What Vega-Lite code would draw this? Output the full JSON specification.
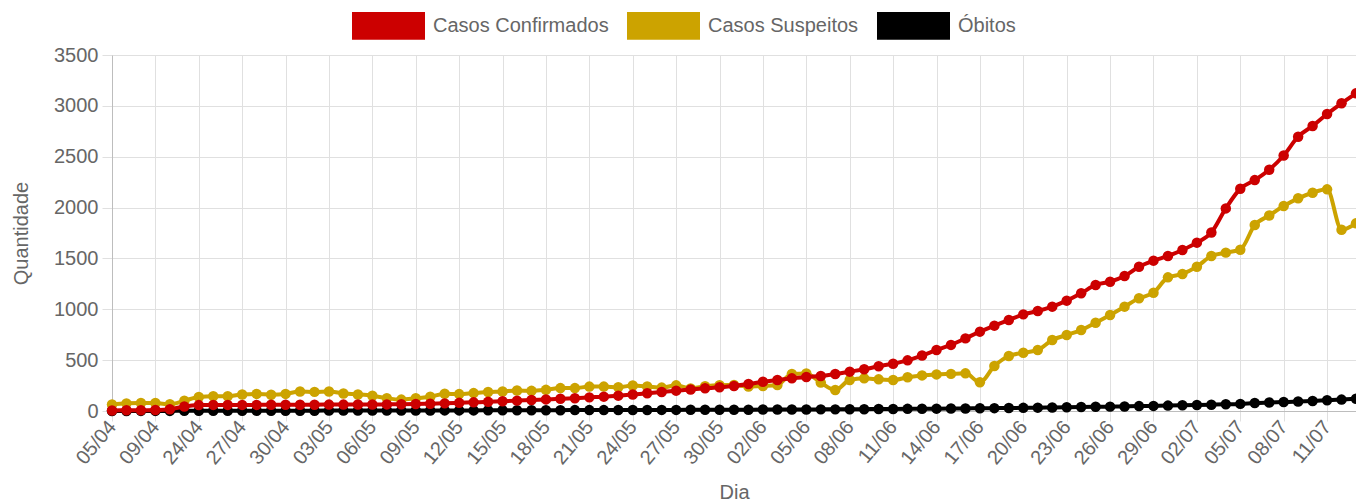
{
  "$schema": "https://vega.github.io/schema/vega-lite/v6.json",
  "autosize": {"type": "none"},
  "width": 1244,
  "height": 356,
  "padding": {"left": 112, "top": 55, "right": 0, "bottom": 91},
  "background": "white",
  "config": {
    "view": {"stroke": null},
    "font": "Liberation Sans",
    "axis": {
      "labelFont": "Liberation Sans",
      "labelFontSize": 20,
      "labelColor": "#666666",
      "titleFont": "Liberation Sans",
      "titleFontSize": 20,
      "titleFontWeight": "normal",
      "titleColor": "#666666",
      "gridColor": "#e0e0e0",
      "gridOpacity": 1,
      "tickColor": "#e0e0e0",
      "tickSize": 10,
      "domainColor": "#bdbdbd",
      "domainWidth": 1
    },
    "legend": {
      "labelFont": "Liberation Sans",
      "labelFontSize": 20,
      "labelColor": "#666666",
      "labelLimit": 400
    }
  },
  "data": {
    "values": [
      {"d": "05/04", "c": 5, "s": 65, "o": 0},
      {"d": "06/04", "c": 7, "s": 75, "o": 0},
      {"d": "08/04", "c": 8, "s": 78, "o": 1},
      {"d": "09/04", "c": 10, "s": 78, "o": 1},
      {"d": "14/04", "c": 18, "s": 66, "o": 1},
      {"d": "19/04", "c": 45, "s": 100, "o": 2},
      {"d": "24/04", "c": 58, "s": 138, "o": 2},
      {"d": "25/04", "c": 60, "s": 145, "o": 2},
      {"d": "26/04", "c": 60, "s": 145, "o": 2},
      {"d": "27/04", "c": 60, "s": 163, "o": 2},
      {"d": "28/04", "c": 60, "s": 168, "o": 3},
      {"d": "29/04", "c": 61, "s": 160, "o": 3},
      {"d": "30/04", "c": 61, "s": 168, "o": 3},
      {"d": "01/05", "c": 62, "s": 192, "o": 3},
      {"d": "02/05", "c": 62, "s": 188, "o": 3},
      {"d": "03/05", "c": 63, "s": 192, "o": 4},
      {"d": "04/05", "c": 63, "s": 172, "o": 4},
      {"d": "05/05", "c": 64, "s": 163, "o": 4},
      {"d": "06/05", "c": 64, "s": 150, "o": 4},
      {"d": "07/05", "c": 65, "s": 125, "o": 5},
      {"d": "08/05", "c": 67, "s": 112, "o": 5},
      {"d": "09/05", "c": 69, "s": 125, "o": 5},
      {"d": "10/05", "c": 72, "s": 140, "o": 5},
      {"d": "11/05", "c": 75, "s": 170, "o": 6},
      {"d": "12/05", "c": 80, "s": 166, "o": 6},
      {"d": "13/05", "c": 85, "s": 176, "o": 6},
      {"d": "14/05", "c": 90, "s": 186, "o": 7},
      {"d": "15/05", "c": 96, "s": 192, "o": 7},
      {"d": "16/05", "c": 102, "s": 202, "o": 7},
      {"d": "17/05", "c": 108, "s": 198, "o": 8},
      {"d": "18/05", "c": 114, "s": 208, "o": 8},
      {"d": "19/05", "c": 120, "s": 225, "o": 8},
      {"d": "20/05", "c": 126, "s": 225, "o": 9},
      {"d": "21/05", "c": 134, "s": 240, "o": 9},
      {"d": "22/05", "c": 141, "s": 240, "o": 9},
      {"d": "23/05", "c": 151, "s": 234, "o": 10},
      {"d": "24/05", "c": 163, "s": 250, "o": 10},
      {"d": "25/05", "c": 174, "s": 242, "o": 10},
      {"d": "26/05", "c": 187, "s": 230, "o": 11},
      {"d": "27/05", "c": 200, "s": 252, "o": 11},
      {"d": "28/05", "c": 212, "s": 222, "o": 12},
      {"d": "29/05", "c": 223, "s": 244, "o": 12},
      {"d": "30/05", "c": 233, "s": 254, "o": 12},
      {"d": "31/05", "c": 246, "s": 255, "o": 13},
      {"d": "01/06", "c": 265, "s": 240, "o": 13},
      {"d": "02/06", "c": 288, "s": 246, "o": 14},
      {"d": "03/06", "c": 305, "s": 256, "o": 14},
      {"d": "04/06", "c": 321, "s": 365, "o": 15},
      {"d": "05/06", "c": 335, "s": 368, "o": 15},
      {"d": "06/06", "c": 344, "s": 279, "o": 16},
      {"d": "07/06", "c": 364, "s": 206, "o": 16},
      {"d": "08/06", "c": 387, "s": 305, "o": 17},
      {"d": "09/06", "c": 410, "s": 321, "o": 18},
      {"d": "10/06", "c": 440, "s": 311, "o": 19},
      {"d": "11/06", "c": 465, "s": 305, "o": 20},
      {"d": "12/06", "c": 498, "s": 331, "o": 21},
      {"d": "13/06", "c": 545, "s": 350, "o": 22},
      {"d": "14/06", "c": 600, "s": 360, "o": 23},
      {"d": "15/06", "c": 650, "s": 365, "o": 24},
      {"d": "16/06", "c": 714, "s": 370, "o": 25},
      {"d": "17/06", "c": 780, "s": 282, "o": 27},
      {"d": "18/06", "c": 839, "s": 442, "o": 28},
      {"d": "19/06", "c": 895, "s": 541, "o": 30},
      {"d": "20/06", "c": 950, "s": 573, "o": 31},
      {"d": "21/06", "c": 983, "s": 600, "o": 33},
      {"d": "22/06", "c": 1026, "s": 698, "o": 35},
      {"d": "23/06", "c": 1085, "s": 747, "o": 37},
      {"d": "24/06", "c": 1157, "s": 796, "o": 39},
      {"d": "25/06", "c": 1239, "s": 868, "o": 41},
      {"d": "26/06", "c": 1271, "s": 944, "o": 43},
      {"d": "27/06", "c": 1327, "s": 1026, "o": 45},
      {"d": "28/06", "c": 1419, "s": 1108, "o": 48},
      {"d": "29/06", "c": 1478, "s": 1163, "o": 50},
      {"d": "30/06", "c": 1524, "s": 1314, "o": 53},
      {"d": "01/07", "c": 1583, "s": 1347, "o": 56},
      {"d": "02/07", "c": 1655, "s": 1419, "o": 59},
      {"d": "03/07", "c": 1755, "s": 1524, "o": 62},
      {"d": "04/07", "c": 1992, "s": 1557, "o": 66},
      {"d": "05/07", "c": 2185, "s": 1586, "o": 70},
      {"d": "06/07", "c": 2270, "s": 1828, "o": 78},
      {"d": "07/07", "c": 2372, "s": 1922, "o": 83},
      {"d": "08/07", "c": 2512, "s": 2015, "o": 88},
      {"d": "09/07", "c": 2697, "s": 2091, "o": 93},
      {"d": "10/07", "c": 2802, "s": 2146, "o": 99},
      {"d": "11/07", "c": 2920, "s": 2179, "o": 106},
      {"d": "12/07", "c": 3025, "s": 1782, "o": 112},
      {"d": "13/07", "c": 3123, "s": 1845, "o": 120}
    ]
  },
  "encoding": {
    "x": {
      "field": "d",
      "type": "ordinal",
      "sort": null,
      "scale": {"type": "point", "padding": 0},
      "title": "Dia",
      "axis": {
        "values": ["05/04", "09/04", "24/04", "27/04", "30/04", "03/05", "06/05", "09/05", "12/05", "15/05", "18/05", "21/05", "24/05", "27/05", "30/05", "02/06", "05/06", "08/06", "11/06", "14/06", "17/06", "20/06", "23/06", "26/06", "29/06", "02/07", "05/07", "08/07", "11/07"],
        "grid": true,
        "labelAngle": -50,
        "labelAlign": "right",
        "labelBaseline": "middle",
        "labelPadding": 2,
        "titlePadding": 15
      }
    }
  },
  "layer": [
    {
      "mark": {"type": "line", "interpolate": "monotone", "strokeWidth": 4},
      "encoding": {
        "y": {"field": "o", "type": "quantitative", "scale": {"domain": [0, 3500]}, "title": "Quantidade",
              "axis": {"values": [0, 500, 1000, 1500, 2000, 2500, 3000, 3500], "format": "d", "labelPadding": 4, "titlePadding": 22}},
        "stroke": {"datum": "Óbitos", "scale": {"domain": ["Casos Confirmados", "Casos Suspeitos", "Óbitos"], "range": ["#cc0000", "#cca300", "#000000"]},
                   "legend": {"title": null, "orient": "none", "legendX": 240, "legendY": -66, "direction": "horizontal",
                            "symbolType": "M-1,-0.38H1V0.38H-1Z", "symbolSize": 5329, "symbolStrokeWidth": 0,
                            "labelOffset": 8, "columnPadding": 18, "padding": 0, "symbolOpacity": 1}}
      }
    },
    {
      "mark": {"type": "point", "filled": true, "size": 110, "opacity": 1},
      "encoding": {
        "y": {"field": "o", "type": "quantitative"},
        "fill": {"datum": "Óbitos", "scale": {"domain": ["Casos Confirmados", "Casos Suspeitos", "Óbitos"], "range": ["#cc0000", "#cca300", "#000000"]},
                 "legend": {"title": null, "orient": "none", "legendX": 240, "legendY": -66, "direction": "horizontal",
                            "symbolType": "M-1,-0.38H1V0.38H-1Z", "symbolSize": 5329, "symbolStrokeWidth": 0,
                            "labelOffset": 8, "columnPadding": 18, "padding": 0, "symbolOpacity": 1}}
      }
    },
    {
      "mark": {"type": "line", "interpolate": "monotone", "strokeWidth": 4},
      "encoding": {
        "y": {"field": "s", "type": "quantitative"},
        "stroke": {"datum": "Casos Suspeitos"}
      }
    },
    {
      "mark": {"type": "point", "filled": true, "size": 110, "opacity": 1},
      "encoding": {
        "y": {"field": "s", "type": "quantitative"},
        "fill": {"datum": "Casos Suspeitos"}
      }
    },
    {
      "mark": {"type": "line", "interpolate": "monotone", "strokeWidth": 4},
      "encoding": {
        "y": {"field": "c", "type": "quantitative"},
        "stroke": {"datum": "Casos Confirmados"}
      }
    },
    {
      "mark": {"type": "point", "filled": true, "size": 110, "opacity": 1},
      "encoding": {
        "y": {"field": "c", "type": "quantitative"},
        "fill": {"datum": "Casos Confirmados"}
      }
    }
  ]
}
